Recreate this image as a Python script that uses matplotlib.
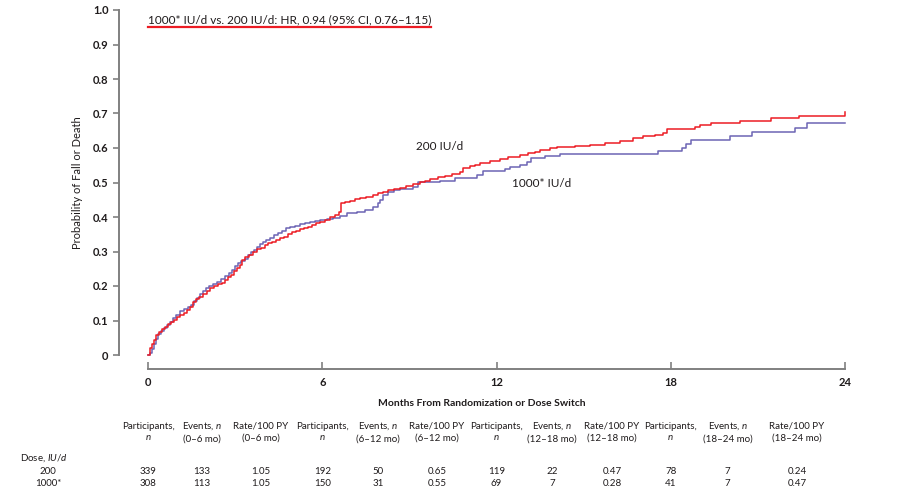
import numpy as np
import matplotlib
matplotlib.use('Agg')
import matplotlib.pyplot as plt
import matplotlib.transforms as mtransforms

plt.rcParams['font.family'] = ['Lato', 'DejaVu Sans']
plt.rcParams['mathtext.fontset'] = 'custom'
plt.rcParams['mathtext.rm'] = 'Lato'
plt.rcParams['mathtext.it'] = 'Lato:italic'
plt.rcParams['mathtext.bf'] = 'Lato:bold'

# cumulative incidence (months, probability)
t_200 = [0, 0.07, 0.14, 0.21, 0.28, 0.38, 0.48, 0.59, 0.69, 0.79, 0.90, 1.00, 1.10, 1.24,
         1.34, 1.45, 1.55, 1.65, 1.76, 1.89, 2.03, 2.13, 2.27, 2.41, 2.55, 2.65, 2.75,
         2.86, 2.96, 3.06, 3.17, 3.24, 3.34, 3.48, 3.62, 3.75, 3.89, 4.03, 4.13, 4.27,
         4.41, 4.55, 4.68, 4.82, 4.96, 5.10, 5.23, 5.37, 5.51, 5.65, 5.79, 5.92, 6.10,
         6.27, 6.44, 6.58, 6.65, 6.78, 6.96, 7.13, 7.30, 7.51, 7.75, 7.92, 8.09, 8.26,
         8.47, 8.68, 8.88, 9.13, 9.37, 9.54, 9.71, 9.99, 10.23, 10.47, 10.74, 10.85,
         11.09, 11.26, 11.43, 11.78, 12.12, 12.40, 12.81, 13.09, 13.33, 13.50, 13.84,
         14.08, 14.70, 15.22, 15.74, 16.25, 16.70, 17.05, 17.46, 17.73, 17.87, 18.84,
         19.01, 19.39, 20.39, 21.45, 22.42, 24.0]
p_200 = [0, 0.020, 0.032, 0.043, 0.058, 0.067, 0.075, 0.081, 0.090, 0.096, 0.101, 0.110,
         0.116, 0.122, 0.130, 0.139, 0.154, 0.162, 0.168, 0.177, 0.186, 0.194, 0.200,
         0.206, 0.209, 0.217, 0.226, 0.232, 0.243, 0.252, 0.261, 0.275, 0.284, 0.290,
         0.299, 0.307, 0.310, 0.319, 0.325, 0.328, 0.333, 0.339, 0.342, 0.351, 0.357,
         0.359, 0.365, 0.368, 0.371, 0.377, 0.383, 0.386, 0.391, 0.400, 0.406, 0.414,
         0.441, 0.443, 0.446, 0.452, 0.455, 0.458, 0.464, 0.470, 0.472, 0.478, 0.481,
         0.484, 0.490, 0.496, 0.501, 0.504, 0.510, 0.516, 0.519, 0.525, 0.530, 0.542,
         0.548, 0.551, 0.557, 0.562, 0.568, 0.574, 0.580, 0.586, 0.588, 0.594, 0.600,
         0.603, 0.606, 0.609, 0.614, 0.620, 0.629, 0.635, 0.638, 0.643, 0.655, 0.661,
         0.667, 0.672, 0.678, 0.687, 0.693, 0.704]

t_1000 = [0, 0.07, 0.14, 0.21, 0.28, 0.34, 0.45, 0.55, 0.65, 0.76, 0.86, 0.96, 1.10, 1.24,
          1.38, 1.48, 1.58, 1.69, 1.79, 1.89, 2.00, 2.10, 2.24, 2.38, 2.51, 2.65, 2.79,
          2.89, 3.00, 3.10, 3.20, 3.34, 3.44, 3.55, 3.65, 3.75, 3.86, 3.96, 4.06, 4.20,
          4.34, 4.48, 4.61, 4.75, 4.89, 5.06, 5.23, 5.41, 5.58, 5.75, 5.92, 6.16, 6.37,
          6.61, 6.85, 7.20, 7.47, 7.75, 7.92, 7.99, 8.09, 8.26, 8.47, 8.68, 9.13, 9.30,
          10.06, 10.57, 11.33, 11.54, 12.29, 12.47, 12.81, 13.05, 13.19, 13.67, 14.19,
          17.56, 18.39, 18.53, 18.70, 20.04, 20.80, 22.28, 22.69, 24.0]
p_1000 = [0, 0.006, 0.017, 0.032, 0.046, 0.061, 0.070, 0.078, 0.087, 0.096, 0.107, 0.116,
          0.128, 0.133, 0.139, 0.145, 0.157, 0.165, 0.177, 0.186, 0.194, 0.200, 0.206,
          0.212, 0.220, 0.229, 0.238, 0.246, 0.258, 0.267, 0.272, 0.278, 0.290, 0.299,
          0.304, 0.313, 0.322, 0.328, 0.333, 0.339, 0.348, 0.354, 0.359, 0.368, 0.371,
          0.374, 0.380, 0.383, 0.386, 0.388, 0.391, 0.394, 0.397, 0.403, 0.412, 0.414,
          0.420, 0.429, 0.441, 0.449, 0.464, 0.472, 0.478, 0.481, 0.487, 0.501, 0.504,
          0.513, 0.522, 0.533, 0.539, 0.545, 0.551, 0.559, 0.571, 0.577, 0.583, 0.591,
          0.600, 0.612, 0.623, 0.635, 0.646, 0.658, 0.672, 0.672]

# numbers-at-risk table
col_x = [0, 1.86, 3.89, 6, 7.92, 9.95, 12, 13.91, 15.98, 18, 19.96, 22.35]
col_head = ['Participants,\n$n$', 'Events, $n$\n(0–6 mo)', 'Rate/100 PY\n(0–6 mo)',
            'Participants,\n$n$', 'Events, $n$\n(6–12 mo)', 'Rate/100 PY\n(6–12 mo)',
            'Participants,\n$n$', 'Events, $n$\n(12–18 mo)', 'Rate/100 PY\n(12–18 mo)',
            'Participants,\n$n$', 'Events, $n$\n(18–24 mo)', 'Rate/100 PY\n(18–24 mo)']
row_names = ['200', '1000*']
row_200 = ['339', '133', '1.05', '192', '50', '0.65', '119', '22', '0.47', '78', '7', '0.24']
row_1000 = ['308', '113', '1.05', '150', '31', '0.55', '69', '7', '0.28', '41', '7', '0.47']

red = '#ec1c24'
blue = '#6c64b4'
txt = '#1f1b1c'
grey = '#808080'

fig = plt.figure(figsize=(9.15, 4.96), dpi=100)
ax = fig.add_axes([119/915, 1-355/496, 726/915, 345/496])

ax.step(t_1000, p_1000, where='post', color=blue, lw=1.1, clip_on=False)
ax.step(t_200, p_200, where='post', color=red, lw=1.1, clip_on=False)

ax.set_xlim(-1.0, 24)
ax.set_ylim(0, 1.0)
for s in ['top', 'right']:
    ax.spines[s].set_visible(False)
ax.spines['left'].set_bounds(0, 1)
ax.spines['bottom'].set_bounds(0, 24)
ax.spines['bottom'].set_position(('outward', 10))
for s in ['left', 'bottom']:
    ax.spines[s].set_color(grey)
    ax.spines[s].set_linewidth(1.4)

ax.set_xticks([0, 6, 12, 18, 24])
ax.set_yticks(np.arange(0, 1.01, 0.1))
ax.set_yticklabels(['0'] + ['%.1f' % v for v in np.arange(0.1, 1.01, 0.1)])
ax.tick_params(axis='x', direction='in', length=5, width=1.2, color=grey,
               labelsize=8, labelcolor=txt, pad=6)
ax.tick_params(axis='y', direction='out', length=4.5, width=1.2, color=grey,
               labelsize=8, labelcolor=txt, pad=3)
for lab in ax.get_xticklabels() + ax.get_yticklabels():
    lab.set_fontweight('bold')

ax.set_xlabel('Months From Randomization or Dose Switch', fontsize=7.5,
              fontweight='bold', color=txt, labelpad=8)
ax.set_ylabel('Probability of Fall or Death', fontsize=8, color=txt, labelpad=7)

title = ax.text(0, 0.972, '1000* IU/d vs. 200 IU/d: HR, 0.94 (95% CI, 0.76–1.15)',
                fontsize=8.5, color=txt, va='center', ha='left')
ax.text(9.23, 0.603, '200 IU/d', fontsize=8.5, color=txt, va='center', ha='left')
ax.text(12.53, 0.496, '1000* IU/d', fontsize=8.5, color=txt, va='center', ha='left')

# red underline below the title
fig.canvas.draw()
bb = title.get_window_extent()
inv = fig.transFigure.inverted()
(x0, y0), (x1, y1) = inv.transform([(bb.x0, bb.y0 - 2), (bb.x1, bb.y0 - 2)])
fig.add_artist(plt.Line2D([x0, x1], [y0, y1], color=red, lw=1.6))

trans = mtransforms.blended_transform_factory(ax.transData, fig.transFigure)
for x, h in zip(col_x, col_head):
    fig.text(x, 1-432/496, h, transform=trans, ha='center', va='center',
             fontsize=7, color=txt, linespacing=1.4)
fig.text(20/915, 1-458/496, 'Dose, $IU/d$', fontsize=7, color=txt, ha='left', va='center')
for name, vals, y in zip(row_names, [row_200, row_1000], [471, 483]):
    fig.text(48/915, 1-y/496, name, fontsize=7, color=txt, ha='center', va='center')
    for x, v in zip(col_x, vals):
        fig.text(x, 1-y/496, v, transform=trans, ha='center', va='center',
                 fontsize=7, color=txt)

fig.savefig('out.png', dpi=100)
